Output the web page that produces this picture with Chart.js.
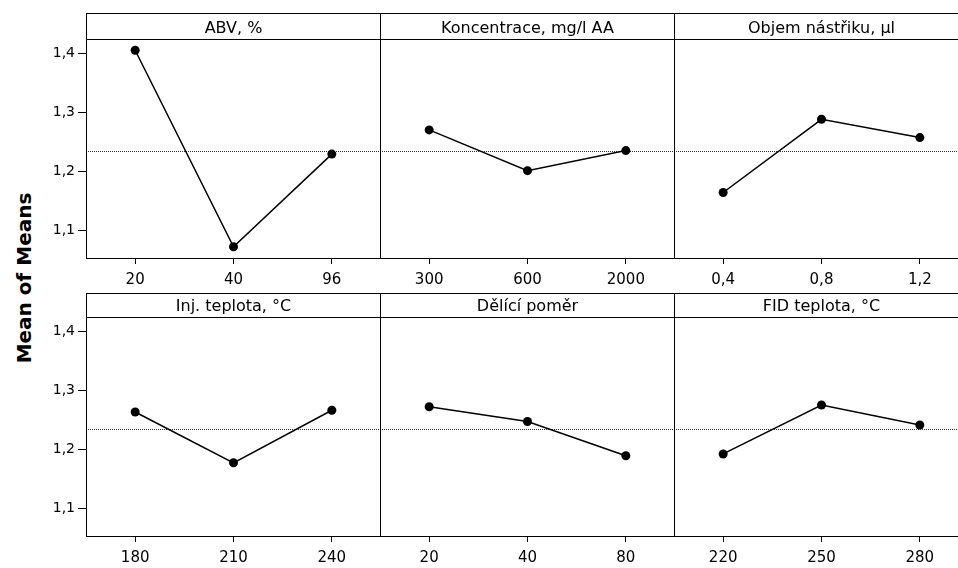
<!DOCTYPE html>
<html>
<head>
<meta charset="utf-8">
<script src="https://cdn.jsdelivr.net/npm/chart.js@4"></script>
<style>
body { margin: 0; background: #fff; width: 958px; height: 568px; overflow: hidden; position: relative; }
canvas { position: absolute; }
#ytitle { position: absolute; left: 24px; top: 278px; transform: translate(-50%, -50%) rotate(-90deg);
  font: bold 20px "DejaVu Sans"; white-space: nowrap; color: #000; }
</style>
</head>
<body>
<div id="ytitle">Mean of Means</div>
<script>
// factor levels (x tick labels)
const abvLevels = ['20', '40', '96'];
const koncLevels = ['300', '600', '2000'];
const objemLevels = ['0,4', '0,8', '1,2'];
const injLevels = ['180', '210', '240'];
const delLevels = ['20', '40', '80'];
const fidLevels = ['220', '250', '280'];

// means for each level
const abvMeans = [1.405, 1.072, 1.229];
const koncMeans = [1.270, 1.201, 1.235];
const objemMeans = [1.164, 1.288, 1.257];
const injMeans = [1.263, 1.177, 1.266];
const delMeans = [1.272, 1.247, 1.189];
const fidMeans = [1.192, 1.275, 1.241];

const panelTitles = ['ABV, %', 'Koncentrace, mg/l AA', 'Objem nástřiku, µl',
                     'Inj. teplota, °C', 'Dělící poměr', 'FID teplota, °C'];

const grandMean = 1.235;
const yTickValues = [1.1, 1.2, 1.3, 1.4];
const yMin = 1.053, yMax = 1.424;

const panels = [
  { title: panelTitles[0], labels: abvLevels, data: abvMeans },
  { title: panelTitles[1], labels: koncLevels, data: koncMeans },
  { title: panelTitles[2], labels: objemLevels, data: objemMeans },
  { title: panelTitles[3], labels: injLevels, data: injMeans },
  { title: panelTitles[4], labels: delLevels, data: delMeans },
  { title: panelTitles[5], labels: fidLevels, data: fidMeans }
];

const rows = [
  { top: 13, headerH: 26, padTop: 8, padBottom: 2 },
  { top: 293, headerH: 24, padTop: 6, padBottom: 2 }
];
const cols = [
  { left: 36, yW: 50, width: 345 },
  { left: 380, yW: 0, width: 295 },
  { left: 674, yW: 0, width: 295 }
];
const plotH = 219;
const xAxisH = 32;
const fontFam = '"DejaVu Sans"';

// frame, header box and dotted grand mean line
const framePlugin = {
  id: 'frame',
  beforeDatasetsDraw(chart, args, opts) {
    const a = chart.chartArea;
    const ctx = chart.ctx;
    const y = Math.round(chart.scales.y.getPixelForValue(opts.mean)) + 0.5;
    ctx.save();
    ctx.strokeStyle = '#333';
    ctx.lineWidth = 1;
    ctx.setLineDash([1, 1]);
    ctx.beginPath();
    ctx.moveTo(a.left, y);
    ctx.lineTo(a.right, y);
    ctx.stroke();
    ctx.restore();
  },
  afterDraw(chart, args, opts) {
    const a = chart.chartArea;
    const ctx = chart.ctx;
    const l = Math.round(a.left) + 0.5;
    const r = Math.round(a.right) - 0.5;
    const t = Math.round(a.top) + 0.5;
    const b = Math.round(a.bottom) + 0.5;
    const ht = t - opts.headerH;
    ctx.save();
    ctx.strokeStyle = '#000';
    ctx.lineWidth = 1;
    ctx.strokeRect(l, ht, r - l, b - ht);
    ctx.beginPath();
    ctx.moveTo(l, t);
    ctx.lineTo(r, t);
    ctx.stroke();
    ctx.restore();
  }
};

panels.forEach((p, i) => {
  const row = rows[Math.floor(i / 3)];
  const col = cols[i % 3];
  const canvas = document.createElement('canvas');
  canvas.width = col.width;
  canvas.height = row.headerH + plotH + xAxisH;
  canvas.style.left = col.left + 'px';
  canvas.style.top = row.top + 'px';
  document.body.appendChild(canvas);

  new Chart(canvas, {
    type: 'line',
    data: {
      labels: p.labels,
      datasets: [{
        data: p.data,
        borderColor: '#000',
        borderWidth: 1.5,
        pointRadius: 4.5,
        pointBackgroundColor: '#000',
        pointBorderColor: '#000',
        pointBorderWidth: 0,
        tension: 0,
        clip: false
      }]
    },
    options: {
      responsive: false,
      animation: false,
      devicePixelRatio: 1,
      layout: { padding: 0, autoPadding: false },
      events: [],
      plugins: {
        legend: { display: false },
        tooltip: { enabled: false },
        title: {
          display: true,
          text: p.title,
          fullSize: false,
          color: '#000',
          font: { family: fontFam, size: 16, weight: 'normal', lineHeight: '16px' },
          padding: { top: row.padTop, bottom: row.padBottom }
        },
        frame: { headerH: row.headerH, mean: grandMean }
      },
      scales: {
        x: {
          type: 'category',
          offset: true,
          grid: { display: true, drawOnChartArea: false, drawTicks: true, tickLength: 6, color: '#000', tickColor: '#000' },
          border: { display: false },
          ticks: { color: '#000', font: { family: fontFam, size: 15 }, padding: 7, maxRotation: 0, autoSkip: false },
          afterFit(s) { s.height = xAxisH; s.paddingLeft = 0; s.paddingRight = 0; }
        },
        y: {
          display: col.yW > 0,
          min: yMin,
          max: yMax,
          afterBuildTicks(s) { s.ticks = yTickValues.map(v => ({ value: v })); },
          grid: { drawOnChartArea: false, tickLength: 8, color: '#000', tickColor: '#000' },
          border: { display: false },
          ticks: {
            color: '#000',
            font: { family: fontFam, size: 14 },
            padding: 3,
            callback: v => v.toFixed(1).replace('.', ',')
          },
          afterFit(s) { s.width = col.yW; s.paddingTop = 0; s.paddingBottom = 0; }
        }
      }
    },
    plugins: [framePlugin]
  });
});
</script>
</body>
</html>
